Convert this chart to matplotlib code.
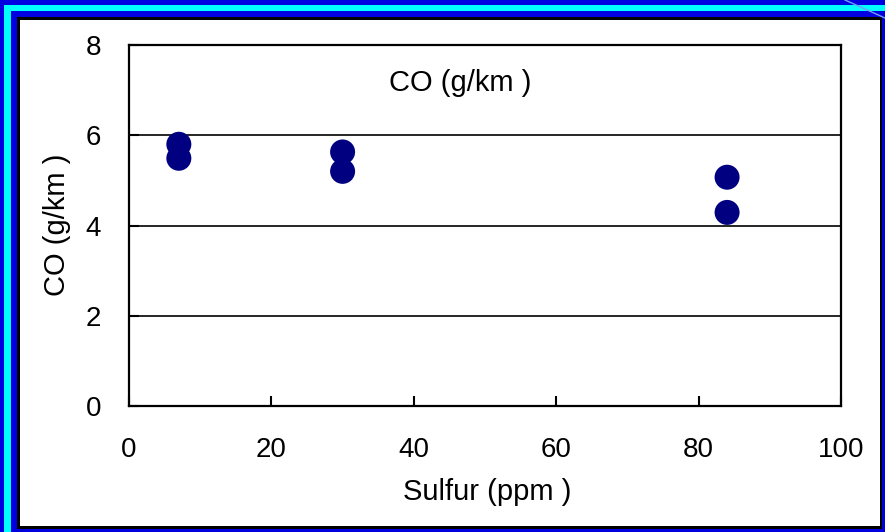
import matplotlib
matplotlib.use("Agg")
import matplotlib.pyplot as plt
from matplotlib.patches import Rectangle
from matplotlib.lines import Line2D

# data
sulfur = [7, 7, 30, 30, 84, 84]
co = [5.80, 5.49, 5.63, 5.20, 5.07, 4.29]
xticks = [0, 20, 40, 60, 80, 100]
yticks = [0, 2, 4, 6, 8]

W, H = 885, 532
plt.rcParams['font.family'] = ['Liberation Sans', 'DejaVu Sans']

fig = plt.figure(figsize=(W / 100, H / 100), dpi=100)
fig.patch.set_facecolor('#0000e0')


def px_rect(x0, y0, x1, y1, color):
    # rectangle given in pixels, origin top-left
    fig.patches.append(Rectangle((x0 / W, 1 - y1 / H), (x1 - x0) / W, (y1 - y0) / H,
                                 transform=fig.transFigure, facecolor=color,
                                 edgecolor='none', zorder=-10))


# slide frame
px_rect(4, 5, 895, 540, '#00ffff')
px_rect(11, 11, 890, 540, '#0000e0')
px_rect(17, 17, 882, 529, '#000000')
px_rect(20, 20, 880, 526, '#ffffff')
fig.lines.append(Line2D([845 / W, 1.0], [1.0, 1 - 18 / H], transform=fig.transFigure,
                        color='#6fa0ff', lw=1))

ax = fig.add_axes([129 / W, 1 - 406 / H, 712 / W, 361 / H])
ax.scatter(sulfur, co, s=18 ** 2, color='#000080', zorder=3, edgecolors='none')

ax.set_xlim(0, 100)
ax.set_ylim(0, 8)
ax.set_xticks(xticks)
ax.set_yticks(yticks)
ax.tick_params(axis='both', direction='in', length=7, width=1.5, labelsize=20)
ax.tick_params(axis='x', pad=22)
ax.tick_params(axis='y', pad=20)
for s in ax.spines.values():
    s.set_linewidth(1.6)
    s.set_color('black')
for v in yticks[1:-1]:
    ax.axhline(v, color='black', lw=1.2, zorder=1)

ax.text(0.465, 0.895, 'CO (g/km )', transform=ax.transAxes, ha='center', va='center',
        fontsize=21)
fig.text(487 / W, 1 - 492 / H, 'Sulfur (ppm )', ha='center', va='center', fontsize=21)
fig.text(57 / W, 1 - 225 / H, 'CO (g/km )', ha='center', va='center', rotation=90,
         fontsize=21)

fig.savefig('out.png', dpi=100)
